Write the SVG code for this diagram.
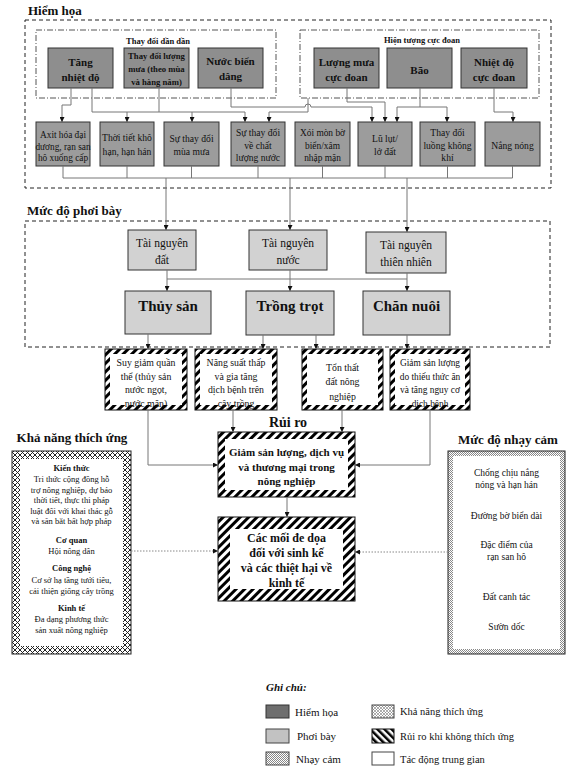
<svg xmlns="http://www.w3.org/2000/svg" width="575" height="777" viewBox="0 0 575 777">
<style>
.t{font-family:"Liberation Serif","Times New Roman",serif;text-anchor:middle;fill:#111}
.b{font-weight:bold}
.hz{fill:#8e8e8e;stroke:#333;stroke-width:1}
.hz2{fill:#9c9c9c;stroke:#333;stroke-width:1}
.ex{fill:#d2d2d2;stroke:#333;stroke-width:1}
.grp{fill:none;stroke:#222;stroke-width:1;stroke-dasharray:4 3}
.sub{fill:none;stroke:#555;stroke-width:1;stroke-dasharray:6 2 1 2}
.c{fill:none;stroke:#777;stroke-width:1}
.d{fill:none;stroke:#888;stroke-width:1;stroke-dasharray:1.5 1.5}
.hat{fill:url(#stripes);stroke:#111;stroke-width:1}
.in{fill:#fff}
</style>
<defs>
<marker id="ar" viewBox="0 0 6 6" refX="6" refY="3" markerWidth="5" markerHeight="5" markerUnits="userSpaceOnUse" orient="auto"><path d="M0,0L6,3L0,6z" fill="#111"/></marker>
<pattern id="stripes" width="6" height="6" patternUnits="userSpaceOnUse" patternTransform="rotate(45)"><rect width="6" height="6" fill="#fff"/><rect width="3" height="6" fill="#000"/></pattern>
<pattern id="stripes2" width="5" height="5" patternUnits="userSpaceOnUse" patternTransform="rotate(-45)"><rect width="5" height="5" fill="#fff"/><rect width="2.5" height="5" fill="#000"/></pattern>
<pattern id="xhatch" width="5" height="5" patternUnits="userSpaceOnUse"><rect width="5" height="5" fill="#fff"/><path d="M0,0L5,5M5,0L0,5" stroke="#222" stroke-width="1"/></pattern>
<pattern id="xs" width="3" height="3" patternUnits="userSpaceOnUse"><rect width="3" height="3" fill="#fff"/><path d="M0,0L3,3M3,0L0,3" stroke="#777" stroke-width="0.6"/></pattern>
<pattern id="dots" width="2" height="2" patternUnits="userSpaceOnUse"><rect width="2" height="2" fill="#fff"/><rect width="1" height="1" fill="#888"/><rect x="1" y="1" width="1" height="1" fill="#888"/></pattern>
</defs>

<g id="hazard-group">
<text class="t b" x="28" y="15" font-size="13" style="text-anchor:start">Hiểm họa</text>
<rect class="grp" x="25" y="20" width="526" height="168"/>
<rect class="sub" x="36" y="30" width="240" height="68"/>
<text class="t b" x="158" y="44" font-size="8.5">Thay đổi dần dần</text>
<rect class="sub" x="300" y="30" width="239" height="68"/>
<text class="t b" x="422" y="43" font-size="8.5">Hiện tượng cực đoan</text>
</g>

<g id="n-tang-nhiet-do"><rect class="hz" x="48" y="48" width="65" height="40"/><text class="t b" x="80.5" y="66" font-size="11">Tăng</text><text class="t b" x="80.5" y="81" font-size="11">nhiệt độ</text></g>
<g id="n-luong-mua"><rect class="hz" x="124" y="48" width="65" height="40"/><text class="t b" x="156.5" y="59" font-size="8.7">Thay đổi lượng</text><text class="t b" x="156.5" y="72" font-size="8.7">mưa (theo mùa</text><text class="t b" x="156.5" y="85" font-size="8.7">và hàng năm)</text></g>
<g id="n-nuoc-bien"><rect class="hz" x="198" y="48" width="65" height="40"/><text class="t b" x="230.5" y="65" font-size="11">Nước biển</text><text class="t b" x="230.5" y="80" font-size="11">dâng</text></g>
<g id="n-mua-cuc-doan"><rect class="hz" x="314" y="48" width="65" height="40"/><text class="t b" x="346.5" y="66" font-size="11">Lượng mưa</text><text class="t b" x="346.5" y="81" font-size="11">cực đoan</text></g>
<g id="n-bao"><rect class="hz" x="387" y="48" width="65" height="40"/><text class="t b" x="419.5" y="74" font-size="11">Bão</text></g>
<g id="n-nhiet-cuc-doan"><rect class="hz" x="461" y="48" width="66" height="40"/><text class="t b" x="494" y="66" font-size="11">Nhiệt độ</text><text class="t b" x="494" y="81" font-size="11">cực đoan</text></g>

<g id="n-axit"><rect class="hz2" x="36" y="122" width="54" height="44"/><text class="t" x="63" y="138" font-size="9.3">Axit hóa đại</text><text class="t" x="63" y="150" font-size="9.3">dương, rạn san</text><text class="t" x="63" y="161" font-size="9.3">hô xuống cấp</text></g>
<g id="n-kho-han"><rect class="hz2" x="100" y="122" width="54" height="44"/><text class="t" x="127" y="141" font-size="9.6">Thời tiết khô</text><text class="t" x="127" y="155" font-size="9.6">hạn, hạn hán</text></g>
<g id="n-mua-mua"><rect class="hz2" x="164" y="122" width="55" height="44"/><text class="t" x="191.5" y="142" font-size="9.6">Sự thay đổi</text><text class="t" x="191.5" y="155" font-size="9.6">mùa mưa</text></g>
<g id="n-chat-luong-nuoc"><rect class="hz2" x="231" y="122" width="54" height="44"/><text class="t" x="258" y="136" font-size="9.6">Sự thay đổi</text><text class="t" x="258" y="149" font-size="9.6">về chất</text><text class="t" x="258" y="160.5" font-size="9.6">lượng nước</text></g>
<g id="n-xoi-mon"><rect class="hz2" x="295" y="122" width="55" height="44"/><text class="t" x="322.5" y="136" font-size="9.4">Xói mòn bờ</text><text class="t" x="322.5" y="149" font-size="9.4">biển/xâm</text><text class="t" x="322.5" y="160.5" font-size="9.4">nhập mặn</text></g>
<g id="n-lu-lut"><rect class="hz2" x="358" y="122" width="54" height="44"/><text class="t" x="385" y="142" font-size="9.6">Lũ lụt/</text><text class="t" x="385" y="155" font-size="9.6">lở đất</text></g>
<g id="n-luong-khong-khi"><rect class="hz2" x="420" y="122" width="55" height="44"/><text class="t" x="447.5" y="136" font-size="9.6">Thay đổi</text><text class="t" x="447.5" y="149" font-size="9.6">luồng không</text><text class="t" x="447.5" y="160.5" font-size="9.6">khí</text></g>
<g id="n-nang-nong"><rect class="hz2" x="485" y="122" width="55" height="44"/><text class="t" x="512.5" y="149" font-size="9.6">Nắng nóng</text></g>

<g id="exposure-group">
<text class="t b" x="27" y="215" font-size="13" style="text-anchor:start">Mức độ phơi bày</text>
<rect class="grp" x="25" y="221" width="525" height="126"/>
</g>
<g id="n-tn-dat"><rect class="ex" x="128" y="230" width="68" height="40"/><text class="t" x="162" y="247" font-size="11.5">Tài nguyên</text><text class="t" x="162" y="264" font-size="11.5">đất</text></g>
<g id="n-tn-nuoc"><rect class="ex" x="249" y="230" width="78" height="40"/><text class="t" x="288" y="247" font-size="11.5">Tài nguyên</text><text class="t" x="288" y="264" font-size="11.5">nước</text></g>
<g id="n-tn-thien-nhien"><rect class="ex" x="366" y="232" width="80" height="41"/><text class="t" x="406" y="249" font-size="11.5">Tài nguyên</text><text class="t" x="406" y="266" font-size="11.5">thiên nhiên</text></g>
<g id="n-thuy-san"><rect class="ex" x="125" y="291" width="86" height="43"/><text class="t b" x="168" y="311" font-size="15">Thủy sản</text></g>
<g id="n-trong-trot"><rect class="ex" x="246" y="291" width="88" height="44"/><text class="t b" x="290" y="311" font-size="15">Trồng trọt</text></g>
<g id="n-chan-nuoi"><rect class="ex" x="363" y="291" width="87" height="44"/><text class="t b" x="406.5" y="311" font-size="15">Chăn nuôi</text></g>

<g id="n-suy-giam"><rect class="hat" x="105" y="349" width="82" height="61"/><rect class="in" x="110" y="354" width="72" height="51"/><text class="t" x="146" y="366" font-size="9.8">Suy giảm quần</text><text class="t" x="146" y="379.5" font-size="9.8">thể (thủy sản</text><text class="t" x="146" y="393" font-size="9.8">nước ngọt,</text><text class="t" x="146" y="406.5" font-size="9.8">nước mặn)</text></g>
<g id="n-nang-suat"><rect class="hat" x="195" y="349" width="82" height="61"/><rect class="in" x="200" y="354" width="72" height="51"/><text class="t" x="236" y="366" font-size="9.8">Năng suất thấp</text><text class="t" x="236" y="379.5" font-size="9.8">và gia tăng</text><text class="t" x="236" y="393" font-size="9.8">dịch bệnh trên</text><text class="t" x="236" y="406.5" font-size="9.8">cây trồng</text></g>
<g id="n-ton-that"><rect class="hat" x="302" y="349" width="81" height="61"/><rect class="in" x="307" y="354" width="71" height="51"/><text class="t" x="342.5" y="371" font-size="9.8">Tổn thất</text><text class="t" x="342.5" y="385" font-size="9.8">đất nông</text><text class="t" x="342.5" y="400" font-size="9.8">nghiệp</text></g>
<g id="n-giam-san-luong-cn"><rect class="hat" x="390" y="349" width="80" height="61"/><rect class="in" x="395" y="354" width="70" height="51"/><text class="t" x="430" y="366" font-size="9.4">Giảm sản lượng</text><text class="t" x="430" y="379.5" font-size="9.4">do thiếu thức ăn</text><text class="t" x="430" y="393" font-size="9.4">và tăng nguy cơ</text><text class="t" x="430" y="406.5" font-size="9.4">dịch bệnh</text></g>

<g id="n-rui-ro"><text class="t b" x="288" y="427" font-size="14">Rủi ro</text><rect class="hat" x="218" y="432" width="137" height="65"/><rect class="in" x="225" y="439" width="123" height="51"/><text class="t b" x="286.5" y="456" font-size="11">Giảm sản lượng, dịch vụ</text><text class="t b" x="286.5" y="470.5" font-size="11">và thương mại trong</text><text class="t b" x="286.5" y="485" font-size="11">nông nghiệp</text></g>
<g id="n-moi-de-doa"><rect class="hat" x="218" y="517" width="137" height="84"/><rect class="in" x="230" y="529" width="113" height="60"/><text class="t b" x="286.5" y="542" font-size="12">Các mối đe dọa</text><text class="t b" x="286.5" y="557" font-size="12">đối với sinh kế</text><text class="t b" x="286.5" y="572" font-size="12">và các thiệt hại về</text><text class="t b" x="286.5" y="587" font-size="12">kinh tế</text></g>

<g id="n-thich-ung">
<text class="t b" x="72" y="442" font-size="13">Khả năng thích ứng</text>
<rect x="12" y="451" width="119" height="203" fill="url(#xhatch)" stroke="#222" stroke-width="1"/>
<rect class="in" x="20" y="459" width="103" height="187"/>
<text class="t b" x="71.5" y="471" font-size="8.5">Kiến thức</text>
<text class="t" x="71.5" y="482" font-size="8.5">Tri thức cộng đồng hỗ</text>
<text class="t" x="71.5" y="492.5" font-size="8.5">trợ nông nghiệp, dự báo</text>
<text class="t" x="71.5" y="503" font-size="8.5">thời tiết, thực thi pháp</text>
<text class="t" x="71.5" y="513.5" font-size="8.5">luật đối với khai thác gỗ</text>
<text class="t" x="71.5" y="524" font-size="8.5">và săn bắt bất hợp pháp</text>
<text class="t b" x="71.5" y="543" font-size="8.5">Cơ quan</text>
<text class="t" x="71.5" y="554" font-size="8.5">Hội nông dân</text>
<text class="t b" x="71.5" y="571" font-size="8.5">Công nghệ</text>
<text class="t" x="71.5" y="583" font-size="8.5">Cơ sở hạ tầng tưới tiêu,</text>
<text class="t" x="71.5" y="594" font-size="8.5">cải thiện giống cây trồng</text>
<text class="t b" x="71.5" y="611" font-size="8.5">Kinh tế</text>
<text class="t" x="71.5" y="622" font-size="8.5">Đa dạng phương thức</text>
<text class="t" x="71.5" y="632.5" font-size="8.5">sản xuất nông nghiệp</text>
</g>

<g id="n-nhay-cam">
<text class="t b" x="508" y="444" font-size="13">Mức độ nhạy cảm</text>
<rect x="448" y="451" width="117" height="203" fill="url(#dots)" stroke="#222" stroke-width="1"/>
<rect class="in" x="453" y="456" width="107" height="193"/>
<text class="t" x="506.5" y="476" font-size="9.5">Chống chịu nắng</text>
<text class="t" x="506.5" y="488" font-size="9.5">nóng và hạn hán</text>
<text class="t" x="506.5" y="519" font-size="9.5">Đường bờ biển dài</text>
<text class="t" x="506.5" y="548" font-size="9.5">Đặc điểm của</text>
<text class="t" x="506.5" y="560" font-size="9.5">rạn san hô</text>
<text class="t" x="506.5" y="600" font-size="9.5">Đất canh tác</text>
<text class="t" x="506.5" y="630" font-size="9.5">Sườn dốc</text>
</g>

<g id="connectors">
<path class="c" d="M71,88V105H62V122" marker-end="url(#ar)"/>
<path class="c" d="M92,88V112H245V122" marker-end="url(#ar)"/>
<path class="c" d="M127,112V122" marker-end="url(#ar)"/>
<path class="c" d="M192,112V122" marker-end="url(#ar)"/>
<path class="c" d="M159,88V112"/>
<path class="c" d="M231,88V107H305A3,3 0 0 1 311,107H372V122" marker-end="url(#ar)"/>
<path class="c" d="M308,98V112H269V122" marker-end="url(#ar)"/>
<path class="c" d="M347,88V102H385V122" marker-end="url(#ar)"/>
<path class="c" d="M420,88V107H397V122" marker-end="url(#ar)"/>
<path class="c" d="M420,107H447V122" marker-end="url(#ar)"/>
<path class="c" d="M494,88V112H513V122" marker-end="url(#ar)"/>
<path class="c" d="M63,166V178M127,166V178M191.5,166V178M258,166V178M322.5,166V178M385,166V178M447.5,166V178M512.5,166V178M63,178H512.5"/>
<path class="c" d="M166,178V230" marker-end="url(#ar)"/>
<path class="c" d="M290,178V230" marker-end="url(#ar)"/>
<path class="c" d="M407,178V232" marker-end="url(#ar)"/>
<path class="c" d="M167,270V279H407M407,273V279"/>
<path class="c" d="M167,279V291" marker-end="url(#ar)"/>
<path class="c" d="M290,270V291" marker-end="url(#ar)"/>
<path class="c" d="M407,279V291" marker-end="url(#ar)"/>
<path class="c" d="M148,334V349" marker-end="url(#ar)"/>
<path class="c" d="M263,335V349" marker-end="url(#ar)"/>
<path class="c" d="M316,335V349" marker-end="url(#ar)"/>
<path class="c" d="M407,335V349" marker-end="url(#ar)"/>
<path class="c" d="M233,410V432" marker-end="url(#ar)"/>
<path class="c" d="M342,410V432" marker-end="url(#ar)"/>
<path class="c" d="M148,410V465H218" marker-end="url(#ar)"/>
<path class="c" d="M430,410V465H355" marker-end="url(#ar)"/>
<path class="c" d="M287,497V517" marker-end="url(#ar)"/>
<path class="d" d="M131,551H218" marker-end="url(#ar)"/>
<path class="d" d="M448,552H355" marker-end="url(#ar)"/>
</g>

<g id="legend">
<text class="t b" x="266" y="691" font-size="11" font-style="italic" style="text-anchor:start">Ghi chú:</text>
<rect x="266" y="705" width="23" height="13" fill="#6e6e6e" stroke="#333"/>
<text class="t" x="295" y="716" font-size="11" style="text-anchor:start">Hiểm họa</text>
<rect x="266" y="729" width="23" height="14" fill="#c2c2c2" stroke="#444"/>
<text class="t" x="297" y="740" font-size="11" style="text-anchor:start">Phơi bày</text>
<rect x="266" y="752" width="23" height="13" fill="url(#dots)" stroke="#444"/>
<text class="t" x="296" y="763" font-size="11" style="text-anchor:start">Nhạy cảm</text>
<rect x="372" y="705" width="22" height="13" fill="url(#xs)" stroke="#444"/>
<text class="t" x="400" y="715" font-size="10.5" style="text-anchor:start">Khả năng thích ứng</text>
<rect x="372" y="729" width="22" height="14" fill="url(#stripes2)" stroke="#111"/>
<text class="t" x="400" y="740" font-size="10.5" style="text-anchor:start">Rủi ro khi không thích ứng</text>
<rect x="372" y="752" width="22" height="13" fill="#fff" stroke="#444"/>
<text class="t" x="400" y="763" font-size="10.5" style="text-anchor:start">Tác động trung gian</text>
</g>
</svg>
